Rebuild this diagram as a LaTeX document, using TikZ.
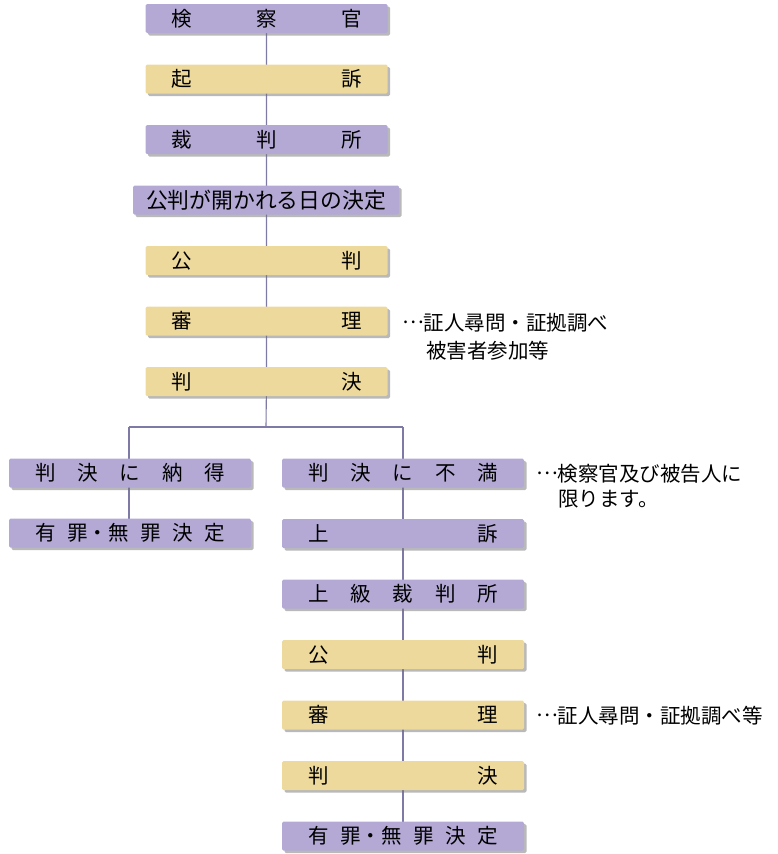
\documentclass[tikz,border=0pt]{standalone}
\usepackage{fontspec}
\setmainfont{Noto Sans CJK JP}
\usetikzlibrary{shadows,backgrounds}
\definecolor{boxpurple}{HTML}{B4A9D5}
\definecolor{boxyellow}{HTML}{EDD99B}
\definecolor{linecol}{HTML}{7E7AA6}
\newcommand\sprd[1]{\hbox to 190pt{#1}}
\newcommand\dotsmid{\makebox[1em][c]{\raisebox{0.33em}{…}}}
\tikzset{
  base/.style={minimum width=242pt, minimum height=29pt, inner sep=0pt,
    rounded corners=1.5pt, font=\fontsize{20.5}{24}\selectfont,
    drop shadow={shadow xshift=2.5pt, shadow yshift=-2.5pt, fill=black!55, opacity=0.5}},
  pbox/.style={base, fill=boxpurple},
  ybox/.style={base, fill=boxyellow},
  conn/.style={draw=linecol, line width=1.1pt},
  note/.style={anchor=base west, inner sep=0pt, font=\fontsize{20.5}{24}\selectfont}
}
\begin{document}
\begin{tikzpicture}[x=1pt,y=-1pt]
\useasboundingbox (0,0) rectangle (777,854);
% main column
\node[pbox] (m1) at (266.5,18.5) {\sprd{検\hfill 察\hfill 官}};
\node[ybox] (m2) at (266.5,79) {\sprd{起\hfill 訴}};
\node[pbox] (m3) at (266.5,139.5) {\sprd{裁\hfill 判\hfill 所}};
\node[pbox, minimum width=266pt, font=\fontsize{21.8}{24}\selectfont] (m4) at (266,200) {公判が開かれる日の決定};
\node[ybox] (m5) at (266.5,260.5) {\sprd{公\hfill 判}};
\node[ybox] (m6) at (266.5,321) {\sprd{審\hfill 理}};
\node[ybox] (m7) at (266.5,381.5) {\sprd{判\hfill 決}};
% left column
\node[pbox] (l1) at (130,473) {\sprd{判\hfill 決\hfill に\hfill 納\hfill 得}};
\node[pbox] (l2) at (130,533) {\sprd{有\hfill 罪・無\hfill 罪\hfill 決\hfill 定}};
% right column
\node[pbox] (r1) at (403,473) {\sprd{判\hfill 決\hfill に\hfill 不\hfill 満}};
\node[pbox] (r2) at (403,533.5) {\sprd{上\hfill 訴}};
\node[pbox] (r3) at (403,594) {\sprd{上\hfill 級\hfill 裁\hfill 判\hfill 所}};
\node[ybox] (r4) at (403,654.5) {\sprd{公\hfill 判}};
\node[ybox] (r5) at (403,715) {\sprd{審\hfill 理}};
\node[ybox] (r6) at (403,775.5) {\sprd{判\hfill 決}};
\node[pbox] (r7) at (403,836) {\sprd{有\hfill 罪・無\hfill 罪\hfill 決\hfill 定}};
% notes
\node[note] (n1) at (403,330) {\dotsmid 証人尋問・証拠調べ};
\node[note] (n2) at (426,358) {被害者参加等};
\node[note] (n3) at (537,481) {\dotsmid 検察官及び被告人に};
\node[note] (n4) at (558,506) {限ります。};
\node[note] (n5) at (537,723) {\dotsmid 証人尋問・証拠調べ等};
% connectors
\coordinate (bj) at (266,427);
\coordinate (bl) at (129,427);
\coordinate (br) at (403,427);
\begin{pgfonlayer}{background}
\draw[conn] (m1.center) -- (m7.center) -- (bj);
\draw[conn] (bl) -- (br);
\draw[conn] (bl) -- (bl |- l2.center);
\draw[conn] (br) -- (r7.center);
\end{pgfonlayer}
\end{tikzpicture}
\end{document}
